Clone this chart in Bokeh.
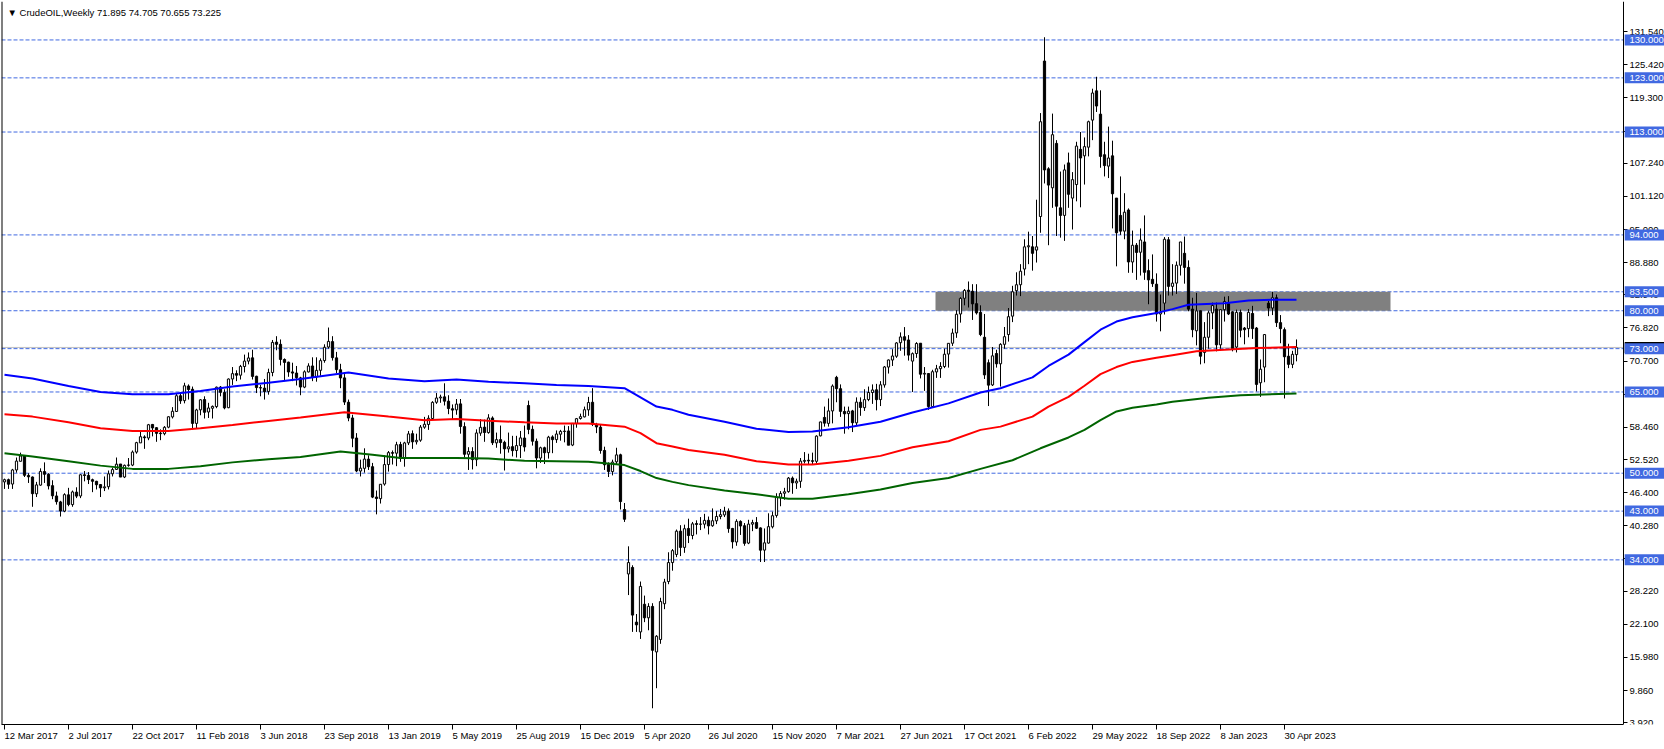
from bokeh.plotting import figure
from bokeh.models import (Range1d, FixedTicker, NumeralTickFormatter, Span,
                          BoxAnnotation, Label, ColumnDataSource)
from bokeh.core.properties import value
from bokeh.embed import file_html
from bokeh.resources import INLINE

# ---------------- data (weekly candles, index 0 = week of 12 Mar 2017) ----------------
opens = [48.4, 48.8, 48.0, 50.6, 52.2, 53.2, 49.6, 49.3, 46.2, 47.8,
         50.3, 49.8, 47.7, 45.8, 44.7, 43.0, 46.0, 44.2, 46.5, 45.8,
         49.7, 49.6, 48.8, 48.5, 47.9, 47.3, 47.5, 49.9, 50.7, 51.7,
         49.3, 51.5, 51.5, 53.9, 55.6, 56.7, 56.5, 59.0, 58.4, 57.4,
         57.3, 58.5, 60.4, 61.4, 64.3, 63.4, 66.1, 65.5, 59.2, 61.7,
         63.6, 61.3, 62.0, 62.3, 65.9, 64.9, 62.1, 67.4, 68.4, 68.1,
         69.7, 70.7, 71.3, 67.9, 65.8, 65.7, 65.1, 68.6, 74.2, 73.8,
         71.0, 70.5, 68.7, 68.5, 67.6, 65.9, 68.7, 69.8, 67.8, 69.0,
         70.8, 73.3, 74.3, 71.3, 69.1, 67.6, 63.1, 60.2, 56.5, 50.4,
         50.9, 52.6, 51.2, 45.6, 45.3, 48.0, 51.6, 53.8, 53.7, 55.3,
         52.7, 55.6, 57.3, 55.8, 56.1, 58.5, 59.0, 60.1, 63.1, 63.9,
         64.1, 63.3, 61.9, 61.7, 62.8, 58.6, 53.5, 54.0, 52.5, 57.4,
         58.5, 57.5, 60.2, 55.6, 56.2, 55.7, 54.5, 54.9, 54.2, 55.1,
         56.5, 62.5, 58.1, 55.9, 52.8, 54.7, 53.8, 56.7, 56.2, 57.2,
         57.7, 57.8, 55.2, 59.2, 60.1, 60.4, 61.7, 63.1, 59.0, 58.5,
         54.2, 51.6, 50.3, 52.1, 53.4, 43.3, 31.4, 32.6, 22.5, 20.7,
         25.8, 23.3, 25.4, 17.0, 19.3, 25.9, 30.0, 33.5, 35.0, 39.3,
         36.3, 39.8, 38.5, 40.7, 40.6, 40.6, 41.3, 40.3, 41.2, 42.0,
         42.3, 43.0, 39.8, 37.3, 41.1, 40.3, 37.1, 40.6, 40.9, 39.9,
         35.8, 37.1, 40.1, 42.2, 45.5, 46.3, 46.6, 49.1, 48.2, 48.5,
         52.2, 52.4, 52.3, 52.2, 56.9, 60.3, 59.2, 61.5, 67.7, 65.6,
         61.4, 61.0, 61.5, 59.3, 63.1, 62.1, 63.6, 64.9, 65.4, 63.6,
         66.3, 69.6, 70.9, 71.6, 74.1, 75.2, 74.6, 70.7, 72.1, 74.0,
         68.3, 68.4, 62.3, 68.7, 69.3, 69.7, 72.0, 74.0, 75.9, 79.4,
         82.3, 83.8, 83.6, 81.3, 79.7, 75.1, 70.4, 66.3, 72.1, 70.2,
         73.8, 75.6, 79.0, 83.7, 84.8, 87.7, 91.8, 91.8, 91.2, 97.4,
         126.1, 106.2, 102.7, 110.9, 99.0, 97.6, 107.3, 100.8, 103.3, 109.8,
         108.6, 110.2, 115.2, 120.6, 116.3, 108.8, 106.7, 108.6, 100.8, 97.6,
         94.7, 98.6, 89.0, 92.1, 90.8, 92.7, 87.4, 85.8, 84.9, 79.4,
         81.4, 93.1, 84.5, 85.1, 88.4, 90.6, 88.0, 80.3, 76.3, 80.0,
         72.3, 75.1, 79.6, 80.3, 73.7, 80.2, 81.3, 79.8, 73.3, 79.7,
         76.8, 76.7, 79.5, 76.8, 66.7, 69.6, 81.4, 80.5, 82.4, 77.8,
         76.5, 71.6, 70.1, 71.895]
highs = [49.0, 49.0, 50.8, 52.9, 53.8, 53.3, 50.0, 49.4, 48.4, 50.9,
         52.0, 50.0, 48.7, 46.6, 44.9, 46.3, 47.3, 46.8, 47.4, 49.8,
         50.4, 50.2, 49.0, 48.6, 48.0, 49.4, 50.5, 51.0, 52.9, 51.7,
         51.6, 52.8, 54.2, 55.8, 57.7, 57.0, 59.1, 59.1, 58.5, 58.1,
         58.7, 60.5, 62.2, 64.8, 64.9, 66.7, 66.4, 66.0, 61.9, 63.7,
         64.2, 63.0, 62.5, 66.0, 66.1, 65.5, 67.5, 69.6, 69.0, 70.0,
         71.9, 72.3, 72.8, 68.0, 66.3, 67.4, 69.3, 74.6, 75.3, 74.7,
         71.2, 70.6, 70.4, 69.8, 67.8, 69.0, 70.3, 71.4, 71.4, 71.2,
         73.8, 76.9, 75.3, 72.4, 70.2, 68.3, 63.6, 60.8, 57.4, 52.5,
         54.6, 53.3, 51.9, 46.8, 48.0, 53.3, 54.1, 54.2, 55.8, 55.8,
         55.8, 57.8, 57.9, 57.3, 58.9, 60.4, 60.7, 63.3, 64.8, 64.5,
         66.6, 64.4, 62.7, 63.7, 63.7, 59.4, 54.8, 54.8, 58.1, 60.0,
         59.9, 60.9, 60.5, 57.5, 58.8, 56.0, 57.5, 56.9, 56.9, 57.8,
         58.8, 63.4, 58.8, 56.4, 54.9, 54.9, 56.9, 57.0, 57.9, 58.0,
         58.8, 58.7, 59.2, 60.2, 61.0, 62.3, 64.1, 65.7, 59.3, 59.0,
         54.9, 52.0, 52.5, 54.7, 53.6, 44.5, 36.5, 33.0, 24.0, 30.0,
         27.4, 26.0, 26.0, 20.1, 27.0, 30.5, 35.4, 36.0, 39.6, 40.4,
         40.5, 41.6, 41.0, 41.3, 41.9, 42.5, 42.0, 43.5, 43.0, 43.4,
         43.8, 43.5, 39.9, 41.5, 41.3, 40.8, 41.4, 41.4, 41.9, 40.0,
         39.8, 42.6, 42.9, 46.3, 46.7, 47.3, 49.3, 49.4, 49.0, 52.8,
         53.9, 53.6, 53.8, 57.0, 59.5, 62.3, 63.8, 66.4, 67.98, 66.4,
         62.3, 62.3, 61.7, 64.0, 64.0, 65.5, 66.0, 66.4, 66.5, 67.0,
         69.8, 71.0, 72.9, 74.2, 76.0, 76.98, 75.5, 72.3, 74.2, 74.0,
         69.6, 68.5, 69.1, 70.0, 70.5, 73.0, 74.0, 76.7, 80.1, 82.5,
         84.0, 85.4, 84.9, 84.9, 81.0, 79.4, 71.0, 73.3, 72.8, 74.0,
         77.0, 80.5, 84.6, 87.1, 88.6, 93.2, 94.6, 93.8, 100.5, 116.5,
         130.5, 106.5, 116.4, 111.5, 105.7, 107.0, 109.2, 105.6, 111.2, 113.0,
         112.0, 115.1, 121.0, 123.2, 120.7, 111.2, 114.0, 111.4, 100.8, 104.8,
         101.7, 98.9, 94.8, 92.5, 95.2, 97.6, 89.5, 90.4, 86.9, 83.0,
         93.6, 93.6, 88.6, 89.1, 92.7, 93.7, 89.3, 82.4, 83.3, 80.0,
         77.9, 80.0, 81.5, 81.5, 80.0, 82.6, 82.7, 79.9, 80.2, 80.2,
         77.0, 80.3, 80.9, 77.0, 71.0, 75.7, 81.8, 83.5, 83.0, 79.2,
         76.9, 73.9, 72.6, 74.705]
lows = [47.1, 47.1, 47.1, 50.1, 52.2, 49.3, 48.2, 43.8, 45.6, 47.7,
        48.2, 47.0, 45.2, 44.2, 42.0, 42.8, 43.9, 43.8, 45.4, 45.4,
        48.5, 48.0, 46.5, 47.0, 45.6, 46.7, 47.0, 49.4, 50.6, 49.3,
        49.1, 51.2, 51.3, 53.6, 55.6, 54.5, 56.1, 56.8, 55.8, 56.1,
        57.0, 58.3, 60.1, 61.3, 62.8, 62.9, 63.6, 58.1, 58.3, 60.7,
        60.1, 60.2, 60.1, 62.0, 64.2, 61.8, 62.0, 66.3, 67.0, 67.3,
        68.6, 70.1, 67.3, 64.8, 64.2, 63.6, 64.5, 67.9, 72.7, 69.9,
        67.0, 67.8, 67.0, 66.2, 64.4, 65.7, 68.6, 67.0, 66.9, 68.0,
        70.4, 73.0, 70.8, 68.5, 65.7, 62.6, 59.6, 54.8, 50.2, 49.4,
        50.1, 50.6, 45.4, 42.4, 44.4, 47.7, 50.3, 51.6, 51.3, 52.1,
        51.2, 55.2, 54.5, 55.3, 55.8, 58.2, 58.0, 60.1, 62.8, 63.0,
        62.5, 60.9, 60.0, 60.8, 57.3, 52.9, 50.6, 50.7, 51.3, 56.9,
        55.8, 57.3, 55.2, 54.7, 53.6, 50.5, 53.8, 53.1, 52.9, 52.8,
        54.0, 57.2, 55.1, 50.9, 51.9, 51.7, 52.7, 53.7, 55.6, 56.0,
        55.7, 55.3, 55.0, 58.4, 59.9, 60.3, 60.6, 58.7, 57.4, 53.6,
        50.6, 49.3, 49.6, 51.6, 43.3, 41.0, 27.5, 20.7, 20.7, 19.4,
        22.5, 21.0, 6.6, 10.3, 18.5, 24.9, 29.5, 32.0, 34.5, 34.7,
        35.3, 37.1, 37.8, 38.7, 39.5, 39.8, 38.7, 40.1, 40.6, 41.5,
        41.9, 39.0, 36.1, 36.6, 38.6, 36.6, 36.9, 39.3, 39.7, 33.6,
        33.6, 37.0, 39.8, 41.8, 43.9, 45.1, 46.4, 46.2, 47.1, 47.3,
        51.8, 51.7, 51.6, 51.8, 56.8, 58.6, 58.6, 59.2, 63.1, 60.4,
        57.3, 58.1, 57.6, 58.9, 60.6, 61.5, 63.3, 62.8, 61.6, 62.4,
        65.8, 68.4, 69.8, 71.3, 72.6, 71.7, 70.8, 65.0, 71.3, 67.5,
        65.2, 61.7, 62.2, 67.6, 67.6, 69.4, 69.5, 73.5, 75.0, 77.8,
        81.0, 80.6, 78.3, 79.3, 75.3, 67.4, 62.4, 66.1, 69.5, 66.0,
        73.0, 74.3, 77.9, 82.8, 82.7, 86.5, 88.6, 87.4, 88.9, 94.4,
        103.5, 92.1, 99.0, 93.8, 93.5, 92.9, 99.0, 95.0, 100.2, 99.1,
        103.3, 108.5, 111.5, 116.7, 106.4, 104.8, 104.5, 95.2, 88.2, 94.0,
        93.2, 87.0, 87.0, 85.7, 86.5, 85.7, 81.2, 84.4, 78.0, 76.2,
        79.3, 82.8, 82.8, 83.1, 86.5, 85.0, 79.9, 75.1, 73.6, 70.1,
        70.3, 73.0, 76.6, 72.5, 73.0, 78.0, 79.2, 72.5, 72.3, 75.1,
        73.8, 75.1, 74.8, 65.1, 64.1, 66.8, 79.0, 79.2, 77.0, 74.0,
        63.8, 69.4, 69.4, 70.655]
closes = [48.8, 47.97, 50.6, 52.24, 53.18, 49.62, 49.33, 46.22, 47.84, 50.33,
          49.8, 47.66, 45.83, 44.74, 43.01, 46.04, 44.23, 46.54, 45.77, 49.71,
          49.58, 48.82, 48.51, 47.87, 47.29, 47.48, 49.89, 50.66, 51.67, 49.29,
          51.45, 51.47, 53.9, 55.64, 56.74, 56.55, 58.95, 58.36, 57.36, 57.3,
          58.47, 60.42, 61.44, 64.3, 63.37, 66.14, 65.45, 59.2, 61.68, 63.55,
          61.25, 62.04, 62.34, 65.88, 64.94, 62.06, 67.39, 68.38, 68.1, 69.72,
          70.7, 71.28, 67.88, 65.81, 65.74, 65.06, 68.58, 74.15, 73.8, 71.01,
          70.46, 68.69, 68.49, 67.63, 65.91, 68.72, 69.8, 67.75, 68.99, 70.78,
          73.25, 74.34, 71.34, 69.12, 67.59, 63.14, 60.19, 56.46, 50.42, 50.93,
          52.61, 51.2, 45.59, 45.33, 47.96, 51.59, 53.8, 53.69, 55.26, 52.72,
          55.59, 57.26, 55.8, 56.07, 58.52, 59.04, 60.14, 63.08, 63.89, 64.07,
          63.3, 61.94, 61.66, 62.76, 58.63, 53.5, 54.0, 52.51, 57.43, 58.47,
          57.51, 60.21, 55.63, 56.2, 55.66, 54.5, 54.87, 54.17, 55.1, 56.52,
          54.85, 58.09, 55.91, 52.81, 54.7, 53.78, 56.66, 56.2, 57.24, 57.72,
          57.77, 55.17, 59.2, 60.07, 60.44, 61.72, 63.05, 59.04, 58.54, 54.19,
          51.56, 50.32, 52.05, 53.38, 44.76, 41.5, 33.5, 23.8, 22.0, 29.1,
          23.3, 25.4, 17.3, 19.9, 26.3, 29.9, 33.5, 35.7, 39.3, 36.3,
          39.75, 38.49, 40.65, 40.55, 40.59, 41.29, 40.27, 41.22, 42.01, 42.34,
          42.97, 39.77, 37.33, 41.11, 40.25, 37.05, 40.6, 40.88, 39.85, 35.79,
          37.14, 40.13, 42.15, 45.53, 46.26, 46.57, 49.1, 48.23, 48.52, 52.24,
          52.36, 52.27, 52.2, 56.85, 59.47, 59.24, 61.5, 66.09, 65.61, 61.42,
          60.97, 61.45, 59.32, 63.13, 62.14, 63.58, 64.9, 65.37, 63.58, 66.32,
          69.62, 70.91, 71.64, 74.05, 75.16, 74.56, 71.81, 72.07, 73.95, 68.28,
          68.44, 62.32, 68.74, 69.29, 69.72, 71.97, 73.98, 75.88, 79.35, 82.28,
          83.76, 83.57, 81.27, 79.6, 75.6, 68.15, 66.26, 71.67, 70.2, 73.79,
          75.21, 78.9, 83.5, 84.8, 87.3, 91.8, 92.0, 90.6, 91.8, 114.9,
          106.0, 103.2, 112.5, 99.3, 97.6, 106.0, 101.5, 104.2, 110.4, 108.2,
          110.3, 114.9, 120.2, 117.8, 108.5, 106.8, 108.2, 101.6, 94.4, 94.7,
          98.2, 89.01, 92.09, 90.77, 93.06, 87.1, 85.7, 85.0, 79.4, 79.7,
          93.2, 84.5, 85.1, 88.4, 92.7, 88.0, 80.3, 76.5, 79.98, 71.6,
          75.1, 79.6, 80.95, 73.7, 80.2, 81.7, 79.4, 73.0, 79.7, 76.4,
          76.5, 79.7, 76.7, 66.4, 69.2, 75.6, 80.5, 82.4, 77.8, 76.7,
          71.5, 70.1, 71.95, 73.225]

# moving averages (week index, price)
blue_w = [0, 7, 16, 24, 32, 41, 49, 57, 66, 74, 86, 96, 105, 113, 121, 130, 138, 146,
          155, 163, 167, 171, 180, 188, 196, 202, 211, 219, 227, 236, 244, 249, 257,
          261, 266, 270, 274, 278, 282, 288, 292, 296, 305, 311, 317, 323]
blue_v = [68.2, 67.5, 66.1, 65.0, 64.6, 64.6, 65.2, 66.0, 66.7, 67.4, 68.6, 67.5, 67.0,
          67.3, 66.9, 66.6, 66.3, 66.1, 65.7, 62.3, 61.7, 60.8, 59.5, 58.2, 57.6, 57.7,
          58.5, 59.5, 61.2, 62.9, 64.9, 65.7, 67.7, 69.8, 71.9, 74.2, 76.5, 78.0, 78.8,
          79.6, 80.3, 81.1, 81.4, 81.9, 82.05, 82.05]
red_w = [0, 7, 16, 24, 32, 41, 49, 57, 66, 74, 85, 96, 105, 113, 121, 130, 138, 146,
         155, 159, 163, 167, 171, 180, 188, 196, 202, 211, 219, 227, 236, 244, 249, 257,
         261, 266, 270, 274, 278, 282, 288, 292, 298, 305, 313, 323]
red_v = [60.9, 60.45, 59.4, 58.3, 57.8, 57.8, 58.3, 58.9, 59.65, 60.3, 61.25, 60.45, 59.8,
         60.0, 59.7, 59.4, 59.2, 59.2, 58.6, 57.4, 55.55, 54.95, 54.3, 53.4, 52.2, 51.6,
         51.6, 52.3, 53.2, 54.8, 55.9, 58.0, 58.6, 60.45, 62.3, 64.1, 66.15, 68.3, 69.6,
         70.55, 71.3, 71.8, 72.5, 72.8, 73.1, 73.3]
green_w = [0, 7, 16, 24, 32, 41, 49, 57, 66, 74, 84, 92, 99, 113, 121, 130, 138, 146,
           155, 159, 163, 167, 171, 180, 188, 196, 202, 211, 219, 227, 236, 244, 252, 259,
           266, 270, 274, 278, 282, 288, 292, 301, 309, 323]
green_v = [53.7, 53.1, 52.2, 51.4, 50.8, 50.8, 51.3, 52.0, 52.6, 53.0, 54.0, 53.4, 52.8,
           52.8, 52.7, 52.3, 52.2, 52.1, 51.5, 50.4, 49.1, 48.4, 47.8, 46.8, 46.1, 45.3,
           45.3, 46.1, 47.0, 48.2, 49.1, 50.8, 52.4, 54.6, 56.6, 58.0, 59.8, 61.4, 62.1,
           62.7, 63.2, 63.95, 64.4, 64.7]

levels = [130.0, 123.0, 113.0, 94.0, 83.5, 80.0, 73.0, 65.0, 50.0, 43.0, 34.0]
zone_weeks = [232.75, 346.5]
zone_prices = [80.0, 83.5]
last_price = 73.225

tick_weeks = list(range(0, 321, 16))
tick_labels = ["12 Mar 2017", "2 Jul 2017", "22 Oct 2017", "11 Feb 2018", "3 Jun 2018",
               "23 Sep 2018", "13 Jan 2019", "5 May 2019", "25 Aug 2019", "15 Dec 2019",
               "5 Apr 2020", "26 Jul 2020", "15 Nov 2020", "7 Mar 2021", "27 Jun 2021",
               "17 Oct 2021", "6 Feb 2022", "29 May 2022", "18 Sep 2022", "8 Jan 2023",
               "30 Apr 2023"]
price_ticks = [131.54, 125.42, 119.30, 113.18, 107.24, 101.12, 95.00, 88.88, 82.94,
               76.82, 70.70, 64.58, 58.46, 52.52, 46.40, 40.28, 34.16, 28.22, 22.10,
               15.98, 9.86, 3.92]
title_text = "\u25BC CrudeOIL,Weekly  71.895 74.705 70.655 73.225"

# ---------------- figure ----------------
FONT = "Liberation Sans"
FS = "9.5px"
LEVEL_BLUE = "#4169E1"
X0, XSCALE, XEND = -0.75, 404.75, 415.0     # chart start, price-scale line, right edge
Y0, Y1 = 3.6, 137.1

p = figure(width=1664, height=749,
           x_range=Range1d(X0, XEND), y_range=Range1d(Y0, Y1),
           y_axis_location="right", output_backend="svg", toolbar_location=None,
           min_border_left=1, min_border_top=1, min_border_right=0, min_border_bottom=0)
p.grid.visible = False
p.outline_line_color = None
p.background_fill_color = "white"
p.border_fill_color = "white"

# price scale drawn inside the plot area, at the end of the chart
ya = p.yaxis[0]
ya.fixed_location = XSCALE
ya.ticker = FixedTicker(ticks=price_ticks)
ya.formatter = NumeralTickFormatter(format="0.000")
ya.major_tick_in = 0
ya.major_tick_out = 4
ya.minor_tick_line_color = None
ya.major_tick_line_color = "black"
ya.axis_line_color = "black"
ya.major_label_standoff = 2
ya.major_label_text_font = FONT
ya.major_label_text_font_size = FS
ya.major_label_text_color = "black"

xa = p.xaxis[0]
xa.ticker = FixedTicker(ticks=tick_weeks)
xa.major_label_overrides = {w: t for w, t in zip(tick_weeks, tick_labels)}
xa.bounds = (X0, XSCALE)
xa.major_tick_in = 0
xa.major_tick_out = 5
xa.minor_tick_line_color = None
xa.axis_line_color = "black"
xa.major_tick_line_color = "black"
xa.major_label_orientation = -0.0001
xa.major_label_standoff = 6
xa.major_label_text_font = FONT
xa.major_label_text_font_size = FS
xa.major_label_text_color = "black"

# grey zone
p.add_layout(BoxAnnotation(left=zone_weeks[0], right=zone_weeks[1],
                           bottom=zone_prices[0], top=zone_prices[1],
                           fill_color="#808080", fill_alpha=1.0, line_color=None,
                           level="underlay"))
# level lines (end at the price scale)
p.segment(x0=[X0] * len(levels), x1=[XSCALE] * len(levels), y0=levels, y1=levels,
          line_color=LEVEL_BLUE, line_dash="4 2", line_width=1, level="underlay")
# bid line
p.segment(x0=[X0], x1=[XSCALE], y0=[last_price], y1=[last_price],
          line_color="#C0C0C0", line_width=1, level="underlay")

# candles
weeks = list(range(len(closes)))
tops = [max(o, c) for o, c in zip(opens, closes)]
bots = [min(o, c) for o, c in zip(opens, closes)]
fills = ["white" if c >= o else "black" for o, c in zip(opens, closes)]
src = ColumnDataSource(dict(x=weeks, high=highs, low=lows, top=tops, bottom=bots, fill=fills))
p.segment(x0="x", y0="high", x1="x", y1="low", source=src, line_color="black", line_width=1)
p.vbar(x="x", top="top", bottom="bottom", width=0.55, source=src,
       fill_color="fill", line_color="black", line_width=1)

# moving averages
p.line(green_w, green_v, line_color="#006400", line_width=2)
p.line(red_w, red_v, line_color="#FF0000", line_width=2)
p.line(blue_w, blue_v, line_color="#0000FF", line_width=2)

# left frame line
p.add_layout(Span(location=X0, dimension="height", line_color="black", line_width=2))

# boxed price labels on the scale (drawn above the scale's own labels)
box_left = XSCALE + 0.3
box_mid = (box_left + XEND) / 2.0


def price_tags(prices, color):
    p.rect(x=[box_mid] * len(prices), y=prices, width=XEND - box_left, height=11,
           height_units="screen", fill_color=color, line_color=None, level="overlay")
    p.text(x=[XSCALE] * len(prices), y=prices, text=[f"{v:.3f}" for v in prices],
           x_offset=6, text_baseline="middle", text_align="left", text_color="white",
           text_font=value(FONT), text_font_size=value(FS), level="overlay")


price_tags([last_price], "black")     # current price, mostly hidden behind 73.000
price_tags(levels, LEVEL_BLUE)

# chart caption
p.add_layout(Label(x=X0, y=Y1, x_offset=6, y_offset=-5, text=title_text,
                   text_baseline="top", text_color="black", text_font=FONT,
                   text_font_size=FS))

open("out.html", "w").write(file_html(p, INLINE))
